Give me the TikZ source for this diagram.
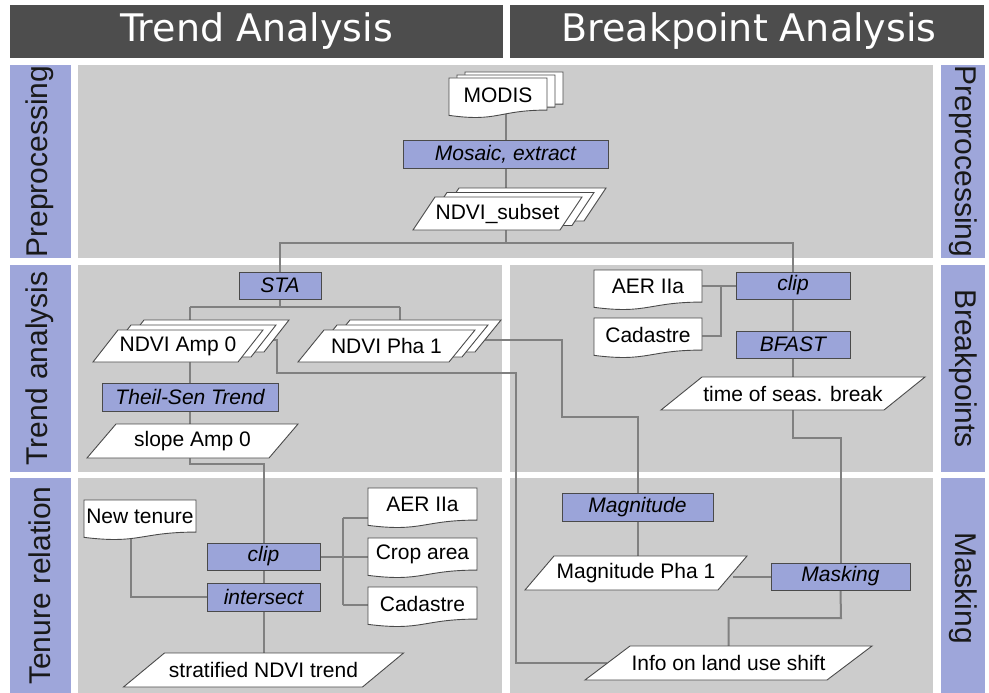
\documentclass[tikz,border=0pt]{standalone}
\usepackage{fontspec}
\setmainfont{Liberation Sans}
\newfontfamily\hdrfont{DejaVu Sans}
\usetikzlibrary{calc}
\pgfdeclarelayer{bg}
\pgfdeclarelayer{lines}
\pgfsetlayers{bg,lines,main}
\definecolor{hdr}{HTML}{4D4D4D}
\definecolor{panel}{HTML}{CCCCCC}
\definecolor{lblue}{HTML}{9EA6DA}
\definecolor{pblue}{HTML}{9BA4D9}
\definecolor{edge}{HTML}{4A4A4A}
\definecolor{conn}{HTML}{808080}
\tikzset{
 txt/.style={inner sep=0pt, font=\fontsize{21}{24}\selectfont, text=black},
 proc/.style={inner sep=0pt, draw=edge, line width=1pt, fill=pblue, font=\fontsize{21}{24}\selectfont\itshape},
 shapeline/.style={draw=edge, line width=0.9pt, fill=white},
 wire/.style={draw=conn, line width=2pt},
 sidelbl/.style={font=\fontsize{30}{34}\selectfont, text=black!90, inner sep=0pt},
 hdrlbl/.style={font=\hdrfont\fontsize{38}{42}\selectfont, text=white, inner sep=0pt},
}
% parallelogram: cx cy w h slant
\newcommand\ParaShape[5]{%
 \path[shapeline] ({(#1)-(#3)/2-(#5)/2},{(#2)+(#4)/2}) -- ({(#1)-(#3)/2+(#5)/2},{(#2)-(#4)/2}) -- ({(#1)+(#3)/2+(#5)/2},{(#2)-(#4)/2}) -- ({(#1)+(#3)/2-(#5)/2},{(#2)+(#4)/2}) -- cycle;}
\newcommand\ParaNode[7]{%
 \ParaShape{#2}{#3}{#4}{#5}{#6}
 \node[txt, minimum width=#4pt, minimum height=#5pt] (#1) at (#2,#3) {#7};}
% document: x1 y1 x2 y2
\newcommand\DocShape[4]{%
 \path[shapeline] (#1,#2) -- (#3,#2) -- (#3,{(#2)+0.802*((#4)-(#2))}) .. controls ({((#1)+(#3))/2},{(#2)+0.802*((#4)-(#2))}) and ({((#1)+(#3))/2},{(#2)+1.107*((#4)-(#2))}) .. (#1,{(#2)+0.934*((#4)-(#2))}) -- cycle;}
\newcommand\DocNode[6]{%
 \DocShape{#2}{#3}{#4}{#5}
 \node[txt, minimum width={(#4)-(#2)}, minimum height={0.8*((#5)-(#3))}] (#1) at ({((#2)+(#4))/2},{(#3)+0.42*((#5)-(#3))}) {#6};}
\begin{document}
\begin{tikzpicture}[x=1pt,y=-1pt]
\useasboundingbox (0,0) rectangle (989,693);
\begin{pgfonlayer}{bg}
 \fill[white] (0,0) rectangle (989,693);
 \fill[hdr] (10,5) rectangle (503,58);
 \fill[hdr] (510,5) rectangle (984,58);
 \fill[lblue] (10,65) rectangle (71,258);
 \fill[lblue] (10,265) rectangle (71,472);
 \fill[lblue] (10,478) rectangle (71,693);
 \fill[panel] (78,65) rectangle (933,258);
 \fill[panel] (78,265) rectangle (502,472);
 \fill[panel] (510,265) rectangle (933,472);
 \fill[panel] (78,478) rectangle (502,693);
 \fill[panel] (510,478) rectangle (933,693);
 \fill[lblue] (941,65) rectangle (985,258);
 \fill[lblue] (941,265) rectangle (985,472);
 \fill[lblue] (941,478) rectangle (985,693);
\end{pgfonlayer}
% headers and side labels
\node[hdrlbl] (h1) at (256.5,31) {Trend Analysis};
\node[hdrlbl] (h2) at (749,31) {Breakpoint Analysis};
\node[sidelbl, rotate=90] (l1) at (40,161.5) {Preprocessing};
\node[sidelbl, rotate=90] (l2) at (40,368.5) {Trend analysis};
\node[sidelbl, rotate=90] (l3) at (40,585.5) {Tenure relation};
\node[sidelbl, rotate=-90] (r1) at (963,161.5) {Preprocessing};
\node[sidelbl, rotate=-90] (r2) at (963,368.5) {Breakpoints};
\node[sidelbl, rotate=-90] (r3) at (963,588) {Masking};
% preprocessing
\DocShape{465}{72}{563}{112}
\DocShape{457}{75}{555}{115}
\DocNode{modis}{449}{78}{547}{118}{MODIS}
\node[proc, minimum width=205pt, minimum height=28pt] (mosaic) at (505.5,154) {Mosaic, extract};
\ParaShape{497.5+24}{213.5-9}{147}{33}{22}
\ParaShape{497.5+12}{213.5-4.5}{147}{33}{22}
\ParaNode{subset}{497.5}{213.5}{147}{33}{22}{NDVI\_subset}
% trend analysis
\node[proc, minimum width=82pt, minimum height=27pt] (sta) at (280,285.5) {STA};
\ParaShape{178+26}{346-10}{145}{32}{25}
\ParaShape{178+13}{346-5}{145}{32}{25}
\ParaNode{amp}{178}{346}{145}{32}{25}{NDVI Amp 0}
\ParaShape{386.5+26}{346-10}{151}{32}{26}
\ParaShape{386.5+13}{346-5}{151}{32}{26}
\ParaNode{pha}{386.5}{346}{151}{32}{26}{NDVI Pha 1}
\node[proc, minimum width=176pt, minimum height=28pt] (theil) at (190,397) {Theil-Sen Trend};
\ParaNode{slope}{192.5}{441}{182}{34}{29}{slope Amp 0}
% breakpoints
\DocNode{aerR}{594}{270}{702}{310}{AER IIa}
\DocNode{cadR}{594}{318}{702}{358}{Cadastre}
\node[proc, minimum width=114pt, minimum height=27pt] (clipR) at (793,285.5) {clip};
\node[proc, minimum width=114pt, minimum height=27pt] (bfast) at (793,344.5) {BFAST};
\ParaNode{time}{793}{393.5}{223}{33}{41}{time of seas. break}
% tenure relation
\DocNode{newt}{84}{500}{196}{540}{New tenure}
\node[proc, minimum width=113pt, minimum height=27pt] (clipL) at (263.5,556.5) {clip};
\node[proc, minimum width=113pt, minimum height=28pt] (intersect) at (263.5,597) {intersect};
\DocNode{aerL}{368}{488}{477}{528}{AER IIa}
\DocNode{crop}{368}{538}{477}{578}{Crop area}
\DocNode{cadL}{368}{587}{477}{627}{Cadastre}
\ParaNode{strat}{263.5}{670}{239}{34}{41}{stratified NDVI trend}
% masking
\node[proc, minimum width=151pt, minimum height=28pt] (magnitude) at (637.5,507) {Magnitude};
\ParaNode{magpha}{636}{573}{193}{34}{29}{Magnitude Pha 1}
\node[proc, minimum width=139pt, minimum height=27pt] (masking) at (840.5,576.5) {Masking};
\ParaNode{info}{728.5}{663}{242}{34}{45}{Info on land use shift}
% connectors
\coordinate (split) at (505.5,243);
\coordinate (brA) at (190,307);
\coordinate (brB) at (400,307);
\coordinate (sl) at (190,464);
\coordinate (ntb) at (131,530);
\coordinate (vLa) at (343,518);
\coordinate (vLb) at (343,605);
\coordinate (vRa) at (721,285.5);
\coordinate (vRb) at (721,336);
\coordinate (tb) at (793,438);
\coordinate (m1) at (562,417);
\coordinate (mk) at (841,618);
\coordinate (a1) at (277,373);
\coordinate (a2) at (516,663);
\begin{pgfonlayer}{lines}
 \draw[wire] (mosaic.north) -- (mosaic.north |- modis.south);
 \draw[wire] (mosaic.south) -- (split);
 \draw[wire] (sta.north) |- (split) -| (clipR.north);
 \draw[wire] (sta.south) -- (sta.south |- brA);
 \draw[wire] (brA) -- (brB);
 \draw[wire] (brA) -- (theil.north);
 \draw[wire] (brB) -- (brB |- pha.north);
 \draw[wire] (theil.south) -- (sl) -| (clipL.north);
 \draw[wire] (clipL.south) -- (intersect.north);
 \draw[wire] (intersect.south) -- (strat.north);
 \draw[wire] (ntb) |- (intersect.west);
 \draw[wire] (clipL.east) -- (clipL.east -| vLa);
 \draw[wire] (vLa) -- (vLb);
 \draw[wire] (vLa) -- (vLa -| aerL.west);
 \draw[wire] (clipL.east -| vLa) -- (clipL.east -| crop.west);
 \draw[wire] (vLb) -- (vLb -| cadL.west);
 \draw[wire] (aerR.east |- clipR.west) -- (clipR.west);
 \draw[wire] (vRa) -- (vRb) -- (vRb -| cadR.east);
 \draw[wire] (clipR.south) -- (bfast.north);
 \draw[wire] (bfast.south) -- (time.north);
 \draw[wire] (time.south) -- (tb) -| (masking.north);
 \draw[wire] ([yshift=6pt]pha.east) -| (m1) -| (magnitude.north);
 \draw[wire] (magnitude.south) -- (magnitude.south |- magpha.north);
 \draw[wire] (masking.west) -- (masking.west -| magpha.east);
 \draw[wire] (masking.south) -- (mk) -| (info.north);
 \draw[wire] ([yshift=6pt]amp.east) -| (a1) -| (a2) -- (a2 -| info.west);
\end{pgfonlayer}
\end{tikzpicture}
\end{document}
